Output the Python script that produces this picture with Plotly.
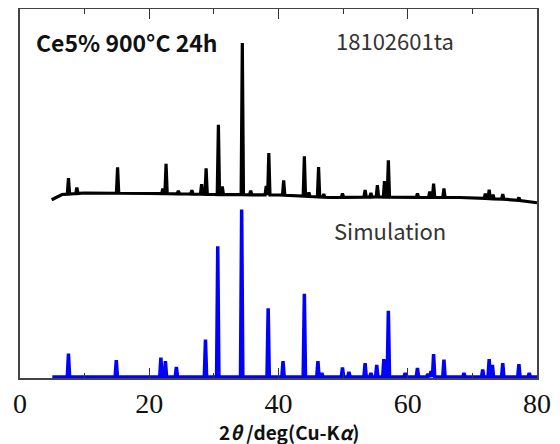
import numpy as np
import plotly.graph_objects as go

# ---------------- data ----------------
# Experimental pattern (black): baseline anchors (2theta, intensity a.u.)
exp_base_pos = [4.9, 5.5, 6.5, 10, 20, 26, 30, 40, 48, 55, 62, 68, 72, 76, 80]
exp_base_val = [178.7, 181, 184, 185.5, 185, 184.5, 184, 183.5, 181, 181.5, 181, 181, 180, 179, 175.7]
# Experimental peaks: position (2theta) and height above baseline
exp_peak_pos = [7.5, 8.8, 15.1, 22.1, 22.6, 24.5, 26.6, 28.1, 28.8, 30.7, 31.3, 34.4, 35.7,
                38.1, 38.5, 40.8, 44.0, 44.7, 46.2, 47.0, 49.9, 53.4, 54.3, 55.3, 56.4, 57.0,
                61.5, 63.4, 64.0, 65.6, 72.0, 72.6, 73.2, 74.7, 77.2]
exp_peak_h = [16, 6, 26, 5, 30, 3, 4, 10, 26, 70, 8, 152, 4,
              9, 42, 15, 40, 4, 30, 3, 4, 7, 4, 12, 16, 37,
              4, 6, 14, 9, 5, 9, 4, 5, 3]

# Simulated pattern (blue)
sim_range = [5.0, 80.0]
sim_base = 1.0
sim_peak_pos = [7.5, 14.9, 21.8, 22.5, 24.2, 28.7, 30.6, 34.3, 38.4, 40.7, 44.0, 46.1, 46.7,
                49.9, 50.9, 53.4, 54.3, 55.2, 56.3, 57.0, 59.6, 61.5, 63.1, 63.6, 64.0, 65.6,
                68.7, 71.6, 72.6, 73.1, 74.7, 77.2, 78.8]
sim_peak_h = [23.5, 17, 19.5, 16, 10, 37.5, 131, 168, 69, 16, 83.5, 16, 4,
              9.5, 5, 14, 4, 12, 18, 66.5, 4, 9, 3, 6, 23, 17.5,
              4, 7.5, 18, 12, 14, 13, 4]

x_ticks = [0, 20, 40, 60, 80]

HW = 0.18  # half width of a peak foot (deg)


def build_line(peak_pos, peak_h, base_x, base_y):
    pts = []
    for bx, by in zip(base_x, base_y):
        if all(abs(bx - p) > HW * 1.2 for p in peak_pos):
            pts.append((bx, by))
    for p, h in zip(peak_pos, peak_h):
        b = float(np.interp(p, base_x, base_y))
        pts.append((p - HW, float(np.interp(p - HW, base_x, base_y))))
        pts.append((p, b + h))
        pts.append((p + HW, float(np.interp(p + HW, base_x, base_y))))
    pts.sort(key=lambda t: t[0])
    return [t[0] for t in pts], [t[1] for t in pts]


ex, ey = build_line(exp_peak_pos, exp_peak_h, exp_base_pos, exp_base_val)
sx, sy = build_line(sim_peak_pos, sim_peak_h, sim_range, [sim_base, sim_base])

fig = go.Figure()
fig.add_trace(go.Scatter(x=sx, y=sy, mode="lines",
                         line=dict(color="#0000FF", width=3.5), hoverinfo="skip"))
fig.add_trace(go.Scatter(x=ex, y=ey, mode="lines",
                         line=dict(color="#000000", width=3.2), hoverinfo="skip"))

# the page body adds an 8px offset, so the figure is 8px smaller and margins shifted
fig.update_layout(
    width=552, height=436,
    margin=dict(l=12, r=23, t=1, b=66),
    paper_bgcolor="white", plot_bgcolor="white",
    showlegend=False,
    xaxis=dict(range=[0, 80], tickvals=x_ticks, ticks="inside", ticklen=10,
               tickwidth=1.2, tickcolor="#333", showline=True, linecolor="#444",
               linewidth=1.5, mirror="ticks", showgrid=False, zeroline=False,
               automargin=False,
               minor=dict(dtick=10, ticks="inside", ticklen=5, tickwidth=1.2,
                          tickcolor="#333", showgrid=False),
               tickfont=dict(family="Liberation Serif", size=28, color="#111")),
    yaxis=dict(range=[0, 370], showticklabels=False, ticks="", showline=True,
               linecolor="#444", linewidth=1.5, mirror=True, showgrid=False,
               zeroline=False, automargin=False),
    annotations=[
        dict(text="<b>Ce5% 900°C 24h</b>", xref="paper", yref="paper", x=0.027, y=0.911,
             xanchor="left", yanchor="middle", showarrow=False,
             font=dict(family="Noto Sans CJK JP", size=23, color="#111")),
        dict(text="18102601ta", xref="paper", yref="paper", x=0.725, y=0.916,
             xanchor="center", yanchor="middle", showarrow=False,
             font=dict(family="Noto Sans CJK JP", size=22, color="#333")),
        dict(text="Simulation", xref="paper", yref="paper", x=0.716, y=0.40,
             xanchor="center", yanchor="middle", showarrow=False,
             font=dict(family="Noto Sans CJK JP", size=22, color="#333")),
        dict(text="<b>2<i>θ</i> /deg(Cu-K<i>α</i>)</b>", xref="paper", yref="paper",
             x=0.52, y=-0.146, xanchor="center", yanchor="middle", showarrow=False,
             font=dict(family="Noto Sans CJK JP", size=19, color="#111")),
    ],
)

fig.write_html("out.html")
